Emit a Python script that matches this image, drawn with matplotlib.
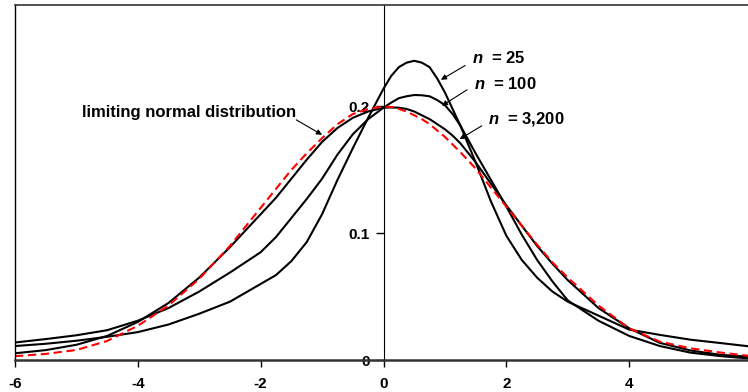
import matplotlib
matplotlib.use('Agg')
import matplotlib.pyplot as plt

plt.rcParams['font.family'] = ['Liberation Sans', 'DejaVu Sans']
plt.rcParams['mathtext.fontset'] = 'custom'
plt.rcParams['mathtext.it'] = 'Liberation Sans:italic:bold'
plt.rcParams['mathtext.rm'] = 'Liberation Sans:bold'

# values
x = [-6, -5.5, -5, -4.5, -4, -3.5, -3, -2.5, -2, -1.75, -1.5, -1.25, -1, -0.75,
     -0.5, -0.25, 0, 0.125, 0.25, 0.375, 0.5, 0.625, 0.75, 0.875, 1, 1.125,
     1.25, 1.5, 1.75, 2, 2.25, 2.5, 2.75, 3, 3.5, 4, 4.5, 5, 5.5, 6]

n25 = [0.011, 0.0128, 0.0152, 0.0183, 0.022, 0.028, 0.0365, 0.046, 0.060, 0.067,
       0.078, 0.093, 0.115, 0.142, 0.167, 0.191, 0.214, 0.224, 0.231, 0.2345,
       0.236, 0.2345, 0.231, 0.222, 0.211, 0.198, 0.185, 0.156, 0.125, 0.098,
       0.079, 0.065, 0.054, 0.046, 0.035, 0.024, 0.0198, 0.016, 0.0133, 0.0105]

n100 = [0.0138, 0.0165, 0.0195, 0.0235, 0.031, 0.041, 0.054, 0.069, 0.085, 0.097,
        0.112, 0.127, 0.143, 0.162, 0.178, 0.190, 0.199, 0.203, 0.2065, 0.208,
        0.209, 0.2088, 0.208, 0.205, 0.201, 0.194, 0.185, 0.163, 0.142, 0.121,
        0.099, 0.079, 0.062, 0.047, 0.031, 0.019, 0.011, 0.0058, 0.003, 0.001]

n3200 = [0.0053, 0.0078, 0.012, 0.019, 0.030, 0.045, 0.065, 0.089, 0.115, 0.128,
         0.143, 0.158, 0.172, 0.183, 0.191, 0.196, 0.199, 0.1992, 0.199, 0.198,
         0.196, 0.193, 0.190, 0.186, 0.182, 0.177, 0.171, 0.156, 0.139, 0.122,
         0.106, 0.090, 0.076, 0.063, 0.041, 0.025, 0.0135, 0.0075, 0.004, 0.0025]

normal = [0.003, 0.0048, 0.0079, 0.015, 0.027, 0.043, 0.064, 0.090, 0.120, 0.135,
          0.150, 0.163, 0.175, 0.186, 0.194, 0.198, 0.200, 0.1995, 0.198, 0.196,
          0.193, 0.190, 0.186, 0.181, 0.176, 0.170, 0.164, 0.151, 0.136, 0.121,
          0.106, 0.091, 0.077, 0.065, 0.043, 0.025, 0.0145, 0.0092, 0.0058, 0.003]

fig = plt.figure(figsize=(7.48, 3.92), dpi=100)
ax = fig.add_axes([15 / 748, 32 / 392, 737 / 748, 355 / 392])

ax.plot(x, n25, color='black', lw=1.5)
ax.plot(x, n100, color='black', lw=1.5)
ax.plot(x, n3200, color='black', lw=1.5)
ax.plot(x, normal, color='red', lw=1.5, dashes=(4, 2.2))

ax.set_xlim(-6, 6)
ax.set_ylim(0, 0.28)

# axis box plus y axis crossing at zero
ax.spines['left'].set_position(('data', 0))
ax.spines['left'].set_linewidth(0.8)
ax.spines['bottom'].set_linewidth(1.8)
ax.spines['bottom'].set_color('#333333')
ax.spines['top'].set_linewidth(1.2)
ax.spines['top'].set_color('#333333')
ax.axvline(-6, color='black', lw=1.0, clip_on=False)

ax.set_xticks([-6, -4, -2, 0, 2, 4, 6])
ax.set_xticklabels(['-6', '-4', '-2', '0', '2', '4', '6'])
ax.set_yticks([0, 0.1, 0.2])
ax.set_yticklabels(['0', '0.1', '0.2'])
ax.tick_params(axis='x', direction='out', length=5, width=1, pad=7)
ax.tick_params(axis='y', direction='out', length=6, width=1, pad=4)
for lab in ax.get_xticklabels() + ax.get_yticklabels():
    lab.set_fontweight('bold')
    lab.set_fontsize(11)

arrow = dict(arrowstyle='-|>', color='black', lw=0.8, mutation_scale=8,
             shrinkA=0, shrinkB=0)
# arrows: (head, tail)
ax.annotate('', xy=(-1.0, 0.1776), xytext=(-1.42, 0.1894), arrowprops=arrow)
ax.annotate('', xy=(0.935, 0.221), xytext=(1.33, 0.2323), arrowprops=arrow)
ax.annotate('', xy=(0.95, 0.2005), xytext=(1.36, 0.2131), arrowprops=arrow)
ax.annotate('', xy=(1.24, 0.1742), xytext=(1.6, 0.1847), arrowprops=arrow)

ax.text(-1.42, 0.1918, 'limiting normal distribution', fontsize=12,
        fontweight='bold', ha='right', va='baseline')
ax.text(1.44, 0.2344, r'$n$  = 25', fontsize=12, fontweight='bold',
        ha='left', va='baseline')
ax.text(1.47, 0.2139, r'$n$  = 100', fontsize=12, fontweight='bold',
        ha='left', va='baseline')
ax.text(1.70, 0.1866, r'$n$  = 3,200', fontsize=12, fontweight='bold',
        ha='left', va='baseline')

fig.savefig('out.png', dpi=100)
